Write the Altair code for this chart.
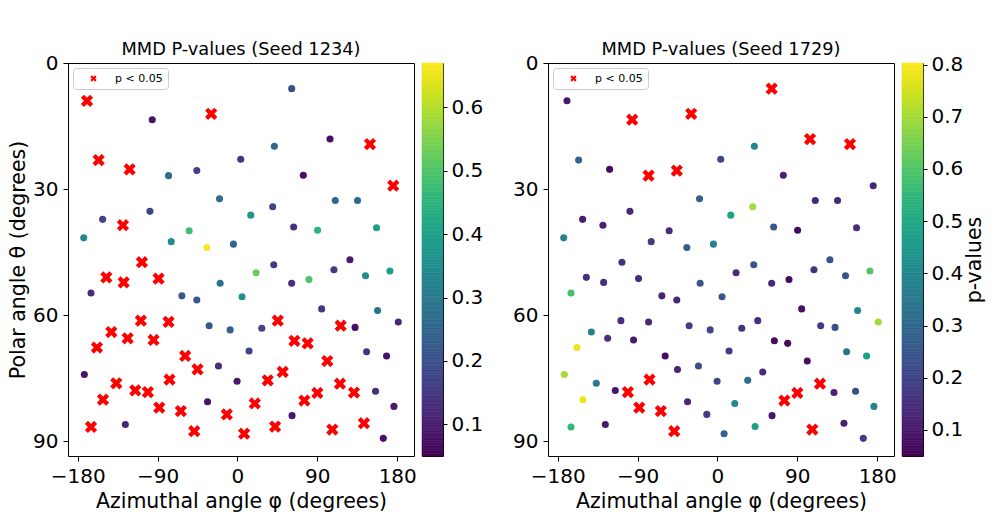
import altair as alt
import numpy as np
import pandas as pd

# Point grid (azimuth phi, polar theta) in degrees -- shared by both seeds
phi = [-169.5, -96.0, -29.6, 61.1, 104.3, 149.3, 41.6, -156.4, -121.5, -77.6,
       -45.8, 3.7, 74.2, 175.5, -151.9, -173.2, -129.0, -98.6, -20.2, -74.6,
       -54.4, -34.5, -4.5, 15.0, 39.7, 63.3, 90.3, 110.2, 135.3, 156.7,
       -107.6, -147.7, -128.2, -88.9, -165.0, -62.6, -45.8, -19.5, 5.2, 21.0,
       40.9, 61.1, 80.6, 108.7, 126.7, 144.3, 171.8, 94.9, 157.9, 181.2,
       -142.1, -158.3, -123.7, -108.8, -94.5, -77.6, -31.9, -8.2, 27.4, 45.4,
       116.3, 132.5, 64.1, 79.1, 13.1, 145.5, 168.0, -58.9, 101.2, -45.0,
       -21.4, 51.0, -172.5, -136.5, -151.5, -165.0, -126.3, -115.1, -100.9, -88.1,
       -76.5, -63.8, -48.7, -33.7, -12.0, -0.4, 7.5, 19.5, 34.1, 42.4,
       61.5, 75.4, 90.0, 106.9, 115.5, 131.3, 142.5, 155.6, 176.3, 164.3]
theta = [9.0, 13.5, 12.1, 6.1, 18.1, 19.3, 19.8, 23.1, 25.3, 26.8,
         25.6, 22.9, 26.7, 29.2, 37.2, 41.6, 38.6, 35.3, 32.3, 42.5,
         39.9, 43.9, 43.1, 36.2, 34.2, 39.0, 39.8, 32.7, 32.7, 39.2,
         47.4, 51.0, 52.2, 51.3, 54.7, 55.4, 56.4, 52.4, 55.6, 49.9,
         48.0, 52.4, 51.5, 49.2, 46.8, 50.6, 49.5, 58.5, 58.9, 61.6,
         64.0, 67.7, 65.5, 61.3, 65.9, 61.6, 62.5, 63.5, 63.1, 61.3,
         62.5, 62.9, 66.1, 66.7, 68.5, 68.7, 69.7, 69.7, 70.9, 72.9,
         72.1, 73.5, 74.1, 76.2, 80.1, 86.6, 86.0, 77.9, 78.3, 82.0,
         75.3, 82.8, 87.6, 80.6, 83.6, 75.7, 88.2, 81.0, 75.5, 86.5,
         83.9, 80.3, 78.5, 87.2, 76.3, 78.4, 85.7, 78.1, 81.7, 89.3]

# MMD p-values per seed (values below 0.05 drawn as red crosses)
p_1234 = [0.02, 0.08, 0.03, 0.19, 0.07, 0.02, 0.26, 0.01, 0.03, 0.27,
          0.17, 0.15, 0.07, 0.04, 0.17, 0.34, 0.02, 0.17, 0.27, 0.35,
          0.48, 0.67, 0.25, 0.37, 0.17, 0.14, 0.45, 0.26, 0.26, 0.40,
          0.01, 0.02, 0.03, 0.02, 0.13, 0.22, 0.22, 0.28, 0.36, 0.53,
          0.15, 0.13, 0.50, 0.15, 0.09, 0.35, 0.40, 0.15, 0.28, 0.12,
          0.02, 0.01, 0.03, 0.02, 0.01, 0.03, 0.22, 0.23, 0.17, 0.02,
          0.03, 0.07, 0.02, 0.01, 0.17, 0.14, 0.08, 0.02, 0.03, 0.01,
          0.13, 0.02, 0.08, 0.01, 0.02, 0.03, 0.11, 0.02, 0.01, 0.02,
          0.03, 0.01, 0.02, 0.08, 0.03, 0.09, 0.01, 0.02, 0.03, 0.02,
          0.09, 0.01, 0.02, 0.03, 0.02, 0.01, 0.03, 0.13, 0.09, 0.08]
p_1729 = [0.10, 0.02, 0.03, 0.01, 0.02, 0.03, 0.40, 0.28, 0.07, 0.02,
          0.01, 0.20, 0.12, 0.13, 0.10, 0.38, 0.12, 0.14, 0.28, 0.18,
          0.14, 0.27, 0.38, 0.48, 0.70, 0.25, 0.07, 0.13, 0.13, 0.15,
          0.15, 0.15, 0.15, 0.14, 0.58, 0.12, 0.13, 0.25, 0.25, 0.14,
          0.24, 0.14, 0.07, 0.16, 0.24, 0.25, 0.60, 0.08, 0.40, 0.70,
          0.37, 0.78, 0.15, 0.15, 0.10, 0.14, 0.18, 0.20, 0.15, 0.15,
          0.18, 0.22, 0.07, 0.07, 0.17, 0.32, 0.48, 0.07, 0.08, 0.12,
          0.22, 0.14, 0.70, 0.35, 0.78, 0.55, 0.10, 0.09, 0.02, 0.01,
          0.03, 0.02, 0.01, 0.13, 0.18, 0.20, 0.28, 0.40, 0.32, 0.48,
          0.09, 0.02, 0.03, 0.01, 0.02, 0.12, 0.12, 0.22, 0.37, 0.18]

titles = ["MMD P-values (Seed 1234)", "MMD P-values (Seed 1729)"]
cbar_range_1234 = [0.05, 0.67]
cbar_range_1729 = [0.05, 0.803]
cbar_ticks_1234 = [0.1, 0.2, 0.3, 0.4, 0.5, 0.6]
cbar_ticks_1729 = [0.1, 0.2, 0.3, 0.4, 0.5, 0.6, 0.7, 0.8]
x_ticks = [-180, -90, 0, 90, 180]
y_ticks = [0, 30, 60, 90]
x_domain = [-190.9, 198.9]
y_domain = [0, 93.5]

FONT = "DejaVu Sans"
XPATH = ("M 0.5 -1 L 0 -0.5 L -0.5 -1 L -1 -0.5 L -0.5 0 L -1 0.5 "
         "L -0.5 1 L 0 0.5 L 0.5 1 L 1 0.5 L 0.5 0 L 1 -0.5 Z")
PW, PH = 346, 393
MINUS = "replace(datum.label, '-', '\u2212')"


def scatter(p, cdom, title, show_ytitle):
    df = pd.DataFrame({"phi": phi, "theta": theta, "p": p})
    df["sig"] = np.where(df["p"] < 0.05, "p < 0.05", "n.s.")
    yaxis_kw = dict(values=y_ticks, titlePadding=4)
    if show_ytitle:
        yaxis_kw["title"] = "Polar angle θ (degrees)"
    else:
        yaxis_kw["title"] = ""
    x = alt.X("phi:Q", scale=alt.Scale(domain=x_domain, nice=False, zero=False),
              axis=alt.Axis(values=x_ticks, title="Azimuthal angle φ (degrees)",
                            titlePadding=5, labelExpr=MINUS))
    y = alt.Y("theta:Q", scale=alt.Scale(domain=y_domain, reverse=True, nice=False, zero=False),
              axis=alt.Axis(**yaxis_kw))
    base = alt.Chart(df)
    dots = base.transform_filter("datum.p >= 0.05").mark_circle(size=50, opacity=1).encode(
        x=x, y=y,
        color=alt.Color("p:Q", scale=alt.Scale(scheme="viridis", domain=cdom), legend=None),
    )
    crosses = base.transform_filter("datum.p < 0.05").mark_point(
        filled=True, size=150, color="red", opacity=1, strokeWidth=0
    ).encode(
        x=x, y=y,
        shape=alt.Shape("sig:N", scale=alt.Scale(range=[XPATH]),
                        legend=alt.Legend(title=None, orient="top-left", offset=5, padding=5,
                                          strokeColor="#cccccc", fillColor="#ffffff",
                                          cornerRadius=3, labelFont=FONT, labelFontSize=11,
                                          labelColor="black", symbolSize=40,
                                          symbolFillColor="red", symbolStrokeWidth=0,
                                          symbolOffset=10, labelOffset=16)),
    )
    return alt.layer(dots, crosses, title=alt.Title(title)).properties(width=PW, height=PH)


def colorbar(cdom, cticks, ctitle):
    vals = np.linspace(cdom[0], cdom[1], 151)
    df = pd.DataFrame({"v": vals[:-1], "v2": vals[1:]})
    df["m"] = (df["v"] + df["v2"]) / 2
    axis_kw = dict(orient="right", values=cticks, tickSize=4, labelPadding=4)
    axis_kw["title"] = ctitle
    if ctitle:
        axis_kw["titleAngle"] = 270
        axis_kw["titlePadding"] = 22
    return alt.Chart(df, title=alt.Title(" ")).mark_rect(strokeWidth=0.6).encode(
        y=alt.Y("v:Q", scale=alt.Scale(domain=cdom, nice=False, zero=False), axis=alt.Axis(**axis_kw)),
        y2="v2:Q",
        color=alt.Color("m:Q", scale=alt.Scale(scheme="viridis", domain=cdom), legend=None),
        stroke=alt.Stroke("m:Q", scale=alt.Scale(scheme="viridis", domain=cdom), legend=None),
    ).properties(width=21, height=PH)


res = dict(color="independent", stroke="independent", shape="independent",
           x="independent", y="independent")

left = alt.hconcat(scatter(p_1234, cbar_range_1234, titles[0], True),
                   colorbar(cbar_range_1234, cbar_ticks_1234, ""),
                   spacing=4).resolve_scale(**res).resolve_legend(shape="independent")
right = alt.hconcat(scatter(p_1729, cbar_range_1729, titles[1], False),
                    colorbar(cbar_range_1729, cbar_ticks_1729, "p-values"),
                    spacing=4).resolve_scale(**res).resolve_legend(shape="independent")

chart = alt.hconcat(left, right, spacing=28).resolve_scale(**res).resolve_legend(
    shape="independent"
).properties(
    padding={"left": 8, "top": 40, "right": 0, "bottom": 0}
).configure(
    background="white"
).configure_axis(
    labelFont=FONT, labelFontSize=20, labelColor="black",
    titleFont=FONT, titleFontSize=20.5, titleFontWeight="normal", titleColor="black",
    tickColor="black", tickSize=5, labelPadding=5, domain=False, grid=False,
).configure_title(
    font=FONT, fontSize=17.8, fontWeight="normal", color="black",
    anchor="middle", frame="group", offset=-6,
).configure_view(
    stroke="black", strokeWidth=1,
)

chart.save("out.html", embed_options={"renderer": "svg", "actions": False})
